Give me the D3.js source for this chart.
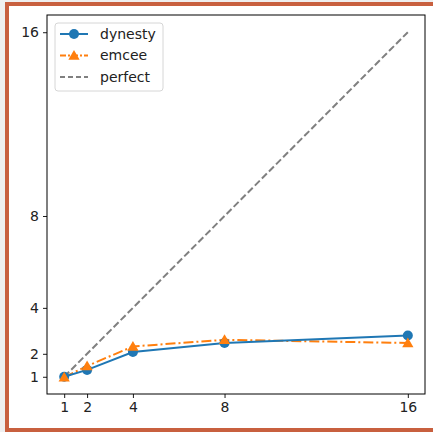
<!DOCTYPE html>
<html>
<head>
<meta charset="utf-8">
<script src="https://cdn.jsdelivr.net/npm/d3@7"></script>
<style>
  html, body { margin: 0; padding: 0; background: #f0f0f0; }
  svg { display: block; }
</style>
</head>
<body>
<svg id="chart" width="433" height="432"></svg>
<script>
// Data
const cores = [1, 2, 4, 8, 16];
const dynestySpeedup = [1.0, 1.3, 2.08, 2.47, 2.8];
const emceeSpeedup = [0.98, 1.47, 2.32, 2.61, 2.47];
const perfectSpeedup = [1, 16];
const perfectCores = [1, 16];
const xTicks = [1, 2, 4, 8, 16];
const yTicks = [1, 2, 4, 8, 16];

const svg = d3.select("#chart");
const width = +svg.attr("width");
const height = +svg.attr("height");

// Frame around the figure
svg.append("rect").attr("x", 0).attr("y", 0).attr("width", width).attr("height", height).attr("fill", "#efefef");
svg.append("rect").attr("x", 5).attr("y", 2).attr("width", width - 5).attr("height", height - 2).attr("fill", "#c8603f");
svg.append("rect").attr("x", 9).attr("y", 6).attr("width", width - 9).attr("height", height - 10).attr("fill", "#ffffff");

const margin = { left: 47, right: 425, top: 15, bottom: 394 };

const x = d3.scaleLinear().domain([0.25, 16.75]).range([margin.left, margin.right]);
const y = d3.scaleLinear().domain([0.25, 16.75]).range([margin.bottom, margin.top]);

const font = "DejaVu Sans, sans-serif";

// Axes
const xAxis = svg.append("g")
    .attr("transform", `translate(0,${margin.bottom})`)
    .call(d3.axisBottom(x).tickValues(xTicks).tickSize(4).tickPadding(4).tickSizeOuter(0));
const yAxis = svg.append("g")
    .attr("transform", `translate(${margin.left},0)`)
    .call(d3.axisLeft(y).tickValues(yTicks).tickSize(4).tickPadding(4).tickSizeOuter(0));
[xAxis, yAxis].forEach(g => {
    g.select(".domain").remove();
    g.selectAll("line").attr("stroke", "#000").attr("stroke-width", 0.9);
    g.selectAll("text").attr("font-family", font).attr("font-size", 14).attr("fill", "#222");
});

// Plot frame
svg.append("rect")
    .attr("x", margin.left).attr("y", margin.top)
    .attr("width", margin.right - margin.left).attr("height", margin.bottom - margin.top)
    .attr("fill", "none").attr("stroke", "#000").attr("stroke-width", 1);

const line = d3.line().x(d => x(d[0])).y(d => y(d[1]));

// Perfect scaling line
svg.append("path")
    .datum(d3.zip(perfectCores, perfectSpeedup))
    .attr("d", line)
    .attr("fill", "none").attr("stroke", "#808080").attr("stroke-width", 2)
    .attr("stroke-dasharray", "7,3");

// emcee
const emceeData = d3.zip(cores, emceeSpeedup);
svg.append("path")
    .datum(emceeData)
    .attr("d", line)
    .attr("fill", "none").attr("stroke", "#ff7f0e").attr("stroke-width", 2)
    .attr("stroke-dasharray", "10,3,2,3");

// dynesty
const dynestyData = d3.zip(cores, dynestySpeedup);
svg.append("path")
    .datum(dynestyData)
    .attr("d", line)
    .attr("fill", "none").attr("stroke", "#1f77b4").attr("stroke-width", 2);
svg.append("g").selectAll("circle")
    .data(dynestyData)
    .join("circle")
    .attr("cx", d => x(d[0])).attr("cy", d => y(d[1]))
    .attr("r", 5).attr("fill", "#1f77b4");

const triangle = d3.symbol().type(d3.symbolTriangle).size(55);
svg.append("g").selectAll("path")
    .data(emceeData)
    .join("path")
    .attr("transform", d => `translate(${x(d[0])},${y(d[1]) + 1})`)
    .attr("d", triangle)
    .attr("fill", "#ff7f0e");

// Legend
const legend = svg.append("g");
legend.append("rect")
    .attr("x", 55).attr("y", 23).attr("width", 108).attr("height", 68).attr("rx", 3)
    .attr("fill", "#fff").attr("fill-opacity", 0.8)
    .attr("stroke", "#d6d6d6").attr("stroke-width", 1);

const legendItems = [
    { label: "dynesty", color: "#1f77b4", dash: null, marker: "circle" },
    { label: "emcee", color: "#ff7f0e", dash: "6,2,2,2", marker: "triangle" },
    { label: "perfect", color: "#808080", dash: "5,3", marker: null }
];
legendItems.forEach((item, i) => {
    const ly = 34 + i * 21.5;
    legend.append("line")
        .attr("x1", 60).attr("x2", 88).attr("y1", ly).attr("y2", ly)
        .attr("stroke", item.color).attr("stroke-width", 2)
        .attr("stroke-dasharray", item.dash);
    if (item.marker === "circle") {
        legend.append("circle").attr("cx", 74).attr("cy", ly).attr("r", 5).attr("fill", item.color);
    } else if (item.marker === "triangle") {
        legend.append("path").attr("transform", `translate(74,${ly + 1})`).attr("d", triangle).attr("fill", item.color);
    }
    legend.append("text")
        .attr("x", 100).attr("y", ly).attr("dy", "0.35em")
        .attr("font-family", font).attr("font-size", 14).attr("fill", "#222")
        .text(item.label);
});
</script>
</body>
</html>
